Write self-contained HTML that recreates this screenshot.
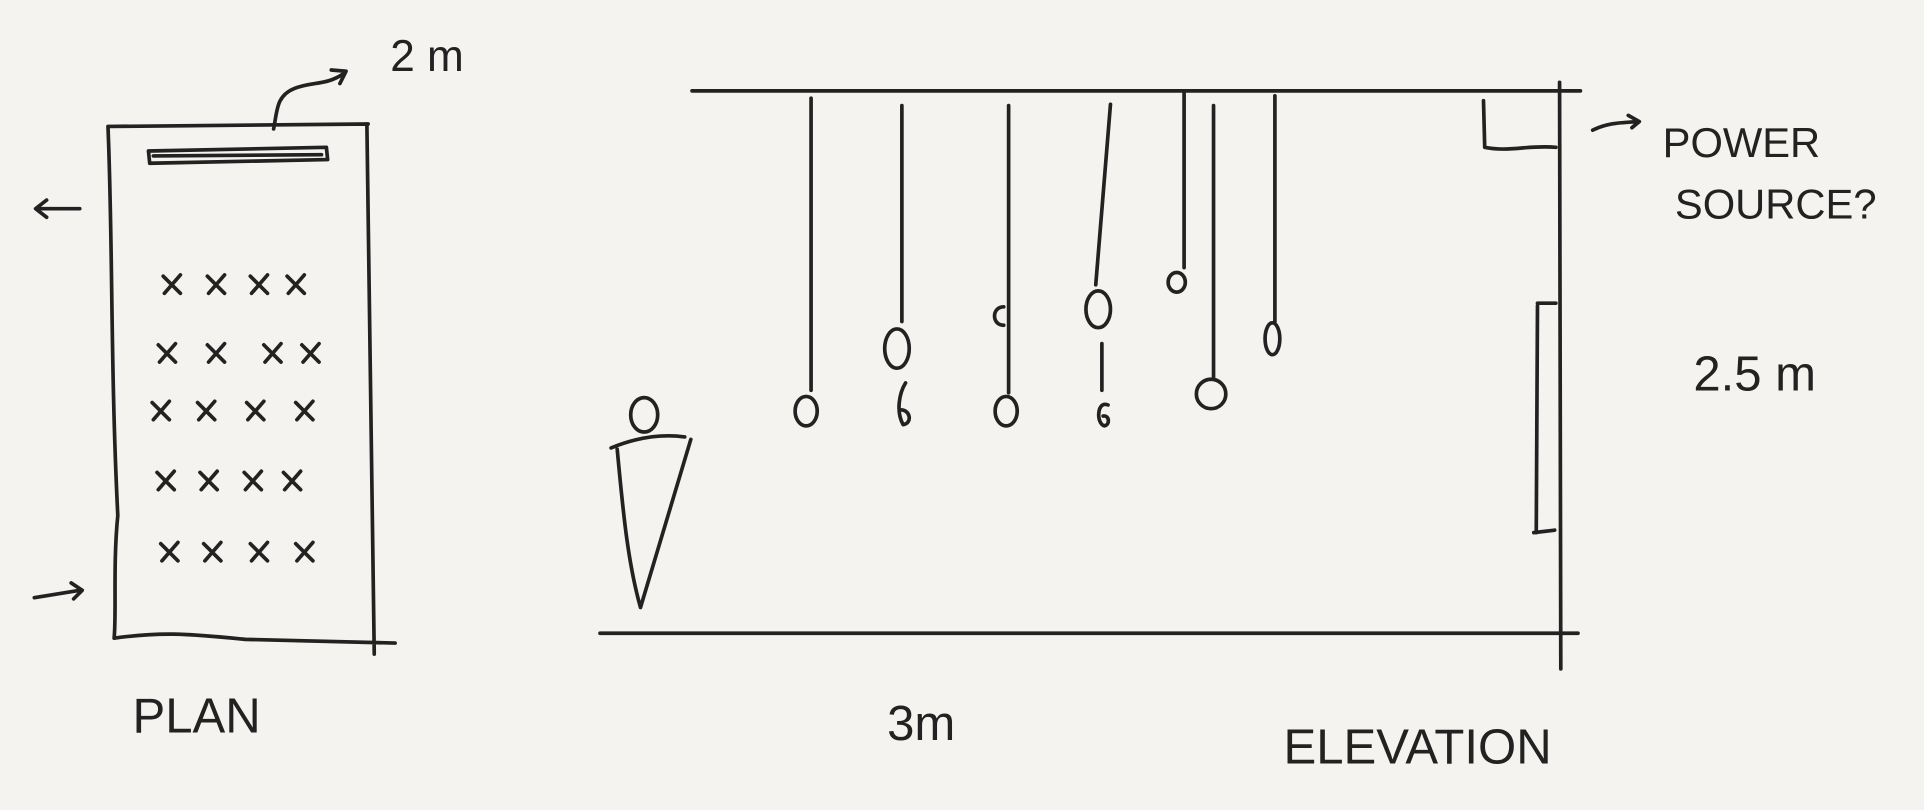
<!DOCTYPE html>
<html><head><meta charset="utf-8"><style>
html,body{margin:0;padding:0;background:#f4f3ef;}
svg{display:block}
text{font-family:"Liberation Sans",sans-serif;fill:#222;}
</style></head><body>
<svg width="1924" height="810" viewBox="0 0 1568 660">
<rect width="1568" height="660" fill="#f4f3ef"/>
<g fill="none" stroke="#222" stroke-width="3" stroke-linecap="round" stroke-linejoin="round">
<g>
<path d="M88,103 L300,101 M88,103 C92,200 90,300 96,420 C92,460 95,500 93,520 M299,101 L305,533 M93,520 C130,515 150,516 200,521 L322,524"/>
<path d="M121,123 L266,120 L267,130 L122,133 Z M125,127 L262,126"/>
<path d="M223,105 C226,90 225,78 240,72 C255,66 265,70 280,60 M270,57 L282,58 L277,68"/>
<path d="M30,170 L65,170 M38,163 L29,170 L38,177"/>
<path d="M28,487 L65,481 M58,475 L67,481 L60,488"/>
<g id="xs"></g>
</g>
<g>
<path d="M564,74 L1288,74 M489,516 L1286,516 M1271,67 L1272,545"/>
<path d="M1209,82 L1210,120 C1230,124 1245,118 1268,120"/>
<path d="M1298,106 C1310,100 1320,100 1335,99 M1327,94 L1336,99 L1330,104"/>
<path d="M1253,249 L1252,434 M1253,247 L1268,247 M1250,434 L1267,432"/>
<g>
<ellipse cx="525" cy="338" rx="11" ry="14"/>
<path d="M498,365 C515,358 535,353 558,356 M503,366 C508,420 512,460 522,495 M563,358 L522,495"/>
</g>
<g>
<path d="M661,80 L661,318"/><ellipse cx="657" cy="335" rx="9" ry="12"/>
<path d="M735,86 L735,262"/><ellipse cx="731" cy="284" rx="10" ry="16"/>
<path d="M738,312 C733,320 730,335 736,346 C744,345 742,333 733,334"/>
<path d="M822,86 L822,320"/><ellipse cx="820" cy="335" rx="9" ry="12"/>
<path d="M818,250 C808,250 808,265 818,265"/>
<path d="M905,85 L893,232"/><ellipse cx="895" cy="252" rx="10" ry="15"/>
<path d="M898,280 L898,318"/><path d="M903,330 C894,326 893,345 900,347 C905,346 904,338 899,339"/>
<path d="M965,75 L965,218"/><ellipse cx="959" cy="230" rx="7" ry="8"/>
<path d="M989,86 L989,308"/><ellipse cx="987" cy="321" rx="12" ry="12"/>
<path d="M1039,78 L1039,262"/><ellipse cx="1037" cy="276" rx="6" ry="13"/>
</g>
</g>
</g>
<text x="318" y="58" font-size="36">2 m</text>
<text x="108" y="597" font-size="40">PLAN</text>
<text x="1355" y="128" font-size="34">POWER</text>
<text x="1365" y="178" font-size="34">SOURCE?</text>
<text x="1380" y="318" font-size="40">2.5 m</text>
<text x="723" y="603" font-size="40">3m</text>
<text x="1046" y="622" font-size="40">ELEVATION</text>
</svg>
<script>
const rowsY=[232,288,335,392,450];
const colsX=[[140,176,211,241],[136,176,222,253],[131,168,208,248],[135,170,206,238],[138,173,211,248]];
const g=document.getElementById('xs');
rowsY.forEach((y,r)=>colsX[r].forEach(x=>{
 const p=document.createElementNS('http://www.w3.org/2000/svg','path');
 p.setAttribute('d',`M${x-7},${y-7} L${x+7},${y+7} M${x+7},${y-8} L${x-6},${y+7}`);
 
 
 g.appendChild(p);
}));
</script>
</body></html>
